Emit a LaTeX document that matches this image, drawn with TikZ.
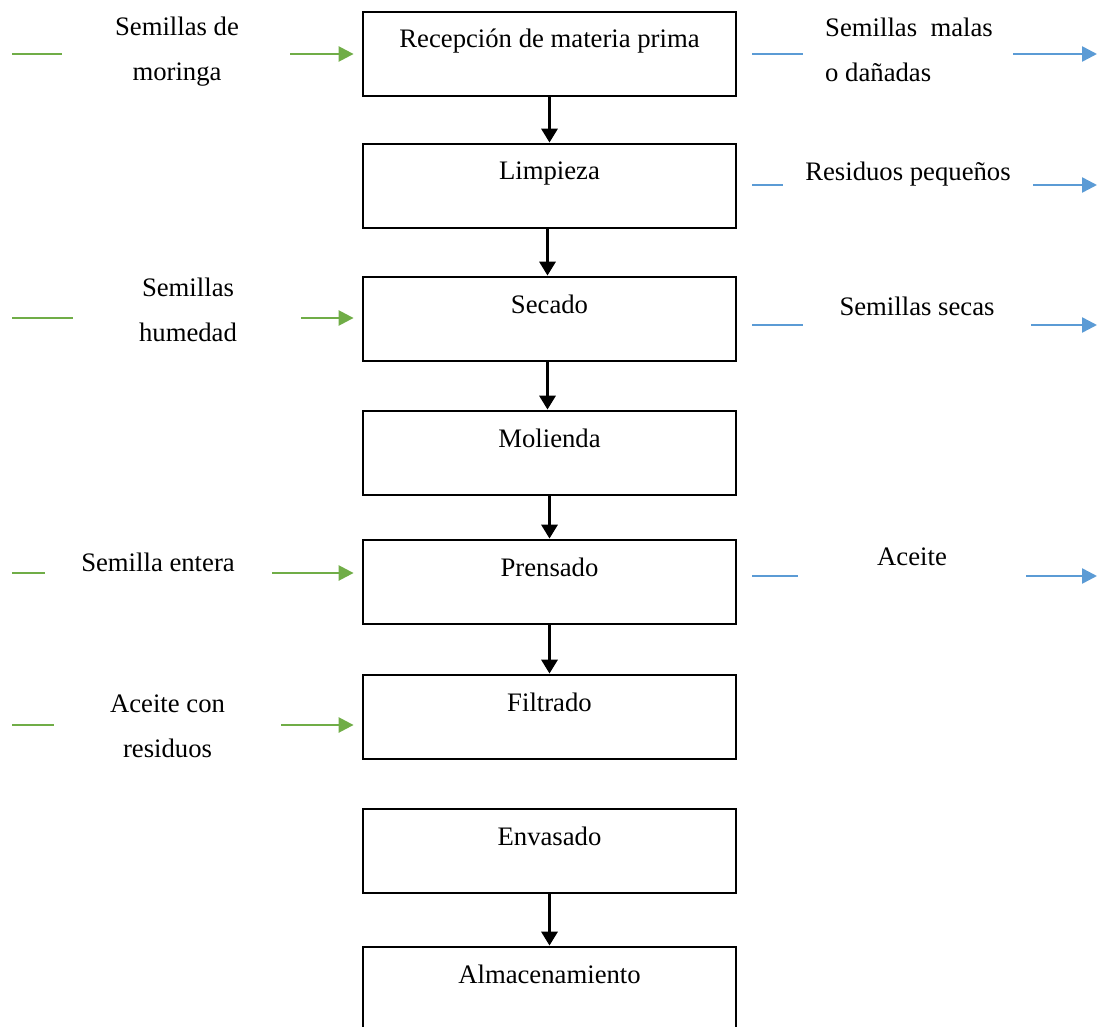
\documentclass[tikz,border=0pt]{standalone}
\usepackage{fontspec}
\setmainfont{Liberation Serif}
\usetikzlibrary{arrows.meta}
\definecolor{gline}{HTML}{70AD47}
\definecolor{bline}{HTML}{5B9BD5}
\begin{document}
\begin{tikzpicture}[x=1pt,y=-1pt,
  stepbox/.style={draw, line width=2.8pt, minimum width=373pt, minimum height=84pt,
    inner sep=0pt, text height=20pt, text depth=32pt, font=\fontsize{26.7}{45}\selectfont},
  flow/.style={line width=3.3pt, -{Triangle[length=14pt,width=16pt]}},
  gin/.style={gline, line width=2.5pt, -{Triangle[length=15pt,width=15pt]}},
  gstub/.style={gline, line width=2.5pt},
  bout/.style={bline, line width=2.5pt, -{Triangle[length=15pt,width=15pt]}},
  bstub/.style={bline, line width=2.5pt},
  lbl/.style={font=\fontsize{26.7}{45}\selectfont, inner sep=0pt, anchor=base, align=center},
]
\useasboundingbox (0,0) rectangle (1098,1027);
\clip (0,0) rectangle (1098,1027);

% process boxes
\node[stepbox] (b1) at (549.5,54) {Recepción de materia prima};
\node[stepbox] (b2) at (549.5,186) {Limpieza};
\node[stepbox] (b3) at (549.5,319) {Secado};
\node[stepbox] (b4) at (549.5,453) {Molienda};
\node[stepbox] (b5) at (549.5,582) {Prensado};
\node[stepbox] (b6) at (549.5,717) {Filtrado};
\node[stepbox] (b7) at (549.5,851) {Envasado};
\node[stepbox] (b8) at (549.5,989) {Almacenamiento};

% main flow
\draw[flow] (b1.south) -- (b2.north);
\draw[flow] ([xshift=-2pt]b2.south) -- ([xshift=-2pt]b3.north);
\draw[flow] ([xshift=-2pt]b3.south) -- ([xshift=-2pt]b4.north);
\draw[flow] (b4.south) -- (b5.north);
\draw[flow] (b5.south) -- (b6.north);
\draw[flow] (b7.south) -- (b8.north);

% left inputs (anchor=base sits on the last line)
\node[lbl] (l1) at (177,81) {Semillas de\\moringa};
\node[lbl] (l3) at (188,341) {Semillas\\humedad};
\node[lbl] (l5) at (158,571) {Semilla entera};
\node[lbl] (l6) at (167.5,757) {Aceite con\\residuos};

\coordinate (g1a) at (12,54);  \coordinate (g1b) at (62,54);  \coordinate (g1c) at (290,54);
\coordinate (g3a) at (12,318); \coordinate (g3b) at (73,318); \coordinate (g3c) at (301,318);
\coordinate (g5a) at (12,573); \coordinate (g5b) at (45,573); \coordinate (g5c) at (272,573);
\coordinate (g6a) at (12,725); \coordinate (g6b) at (54,725); \coordinate (g6c) at (281,725);

\draw[gstub] (g1a) -- (g1b);
\draw[gstub] (g3a) -- (g3b);
\draw[gstub] (g5a) -- (g5b);
\draw[gstub] (g6a) -- (g6b);
\draw[gin, shorten >=8pt] (g1c) -- (g1c -| b1.west);
\draw[gin, shorten >=8pt] (g3c) -- (g3c -| b3.west);
\draw[gin, shorten >=8pt] (g5c) -- (g5c -| b5.west);
\draw[gin, shorten >=8pt] (g6c) -- (g6c -| b6.west);

% right outputs
\node[lbl, anchor=base west, align=left] (r1) at (825,82) {Semillas\ \ malas\\o dañadas};
\node[lbl] (r2) at (908,181) {Residuos pequeños};
\node[lbl] (r3) at (917,315) {Semillas secas};
\node[lbl] (r5) at (912,565) {Aceite};

\coordinate (o1a) at (752,54);  \coordinate (o1b) at (803,54);  \coordinate (o1c) at (1013,54);  \coordinate (o1d) at (1097,54);
\coordinate (o2a) at (752,185); \coordinate (o2b) at (783,185); \coordinate (o2c) at (1033,185); \coordinate (o2d) at (1097,185);
\coordinate (o3a) at (752,325); \coordinate (o3b) at (803,325); \coordinate (o3c) at (1031,325); \coordinate (o3d) at (1097,325);
\coordinate (o5a) at (752,576); \coordinate (o5b) at (798,576); \coordinate (o5c) at (1026,576); \coordinate (o5d) at (1097,576);

\draw[bstub] (o1a) -- (o1b);
\draw[bstub] (o2a) -- (o2b);
\draw[bstub] (o3a) -- (o3b);
\draw[bstub] (o5a) -- (o5b);
\draw[bout] (o1c) -- (o1d);
\draw[bout] (o2c) -- (o2d);
\draw[bout] (o3c) -- (o3d);
\draw[bout] (o5c) -- (o5d);
\end{tikzpicture}
\end{document}
